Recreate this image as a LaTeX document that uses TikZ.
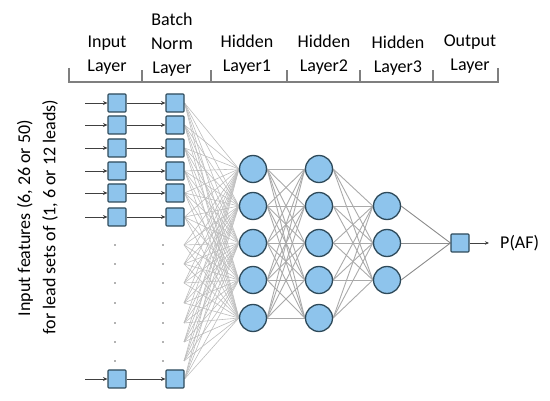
\documentclass[tikz,border=0pt]{standalone}
\usepackage{fontspec}
\setmainfont{Carlito}
\usetikzlibrary{backgrounds,arrows.meta}
\definecolor{nodefill}{HTML}{8EC4EC}
\definecolor{nodeedge}{HTML}{2E4A5A}
\definecolor{conn}{HTML}{BDBDBD}
\definecolor{bracket}{HTML}{7F7F7F}
\tikzset{
  sq/.style={draw=nodeedge, fill=nodefill, line width=1.1pt, minimum size=18pt, inner sep=0pt, rectangle, rounded corners=0.8pt},
  neuron/.style={draw=nodeedge, fill=nodefill, line width=1.3pt, circle, minimum size=27pt, inner sep=0pt},
  ghost/.style={inner sep=0pt, minimum size=0pt},
  lbl/.style={font=\fontsize{18}{24}\selectfont, align=center, inner sep=0pt},
  feed/.style={draw=black!75, line width=0.9pt, -{Stealth[length=4.5pt,width=4pt]}},
  link/.style={draw=conn, line width=0.6pt},
  hlink/.style={draw=conn!90!black, line width=0.9pt},
  dotmark/.style={fill=black!60, circle, inner sep=0pt, minimum size=1.6pt},
}
\begin{document}
\begin{tikzpicture}[x=1pt,y=-1pt]
\useasboundingbox (0,0) rectangle (550,401);

% header labels
\node[lbl] (lin) at (107,55) {Input\\Layer};
\node[lbl] (lbn) at (172,45) {Batch\\Norm\\Layer};
\node[lbl] (lh1) at (247,55) {Hidden\\Layer1};
\node[lbl] (lh2) at (324,55) {Hidden\\Layer2};
\node[lbl] (lh3) at (398,56) {Hidden\\Layer3};
\node[lbl] (lout) at (470,54) {Output\\Layer};

% bracket
\draw[bracket, line width=1.3pt] (69,68) -- (69,82) -- (498,82) -- (498,68);
\foreach \x in {142,211,287,360,433} \draw[bracket, line width=1.3pt] (\x,82) -- (\x,70);

% side text
\node[lbl, rotate=90] (side1) at (25,218) {Input features (6, 26 or 50)};
\node[lbl, rotate=90] (side2) at (50,217) {for lead sets of (1, 6 or 12 leads)};

% input and batch norm squares
\foreach \i/\y in {1/103,2/125,3/148,4/171,5/193,6/217,7/379} {
  \coordinate (src\i) at (85,\y);
  \node[sq] (in\i) at (117,\y) {};
  \node[sq] (bn\i) at (175,\y) {};
  \draw[feed] (src\i) -- (in\i.west);
  \draw[feed] (in\i.east) -- (bn\i.west);
}

% dots
\foreach \k/\y in {1/245,2/264,3/283,4/303,5/323,6/342,7/361} {
  \node[dotmark] (da\k) at (115,\y) {};
  \node[dotmark] (db\k) at (163,\y) {};
  \coordinate (gh\k) at (184,\y);
}

% hidden layers
\foreach \j/\y in {1/169,2/206,3/243,4/280,5/318} {
  \node[neuron] (ha\j) at (253,\y) {};
  \node[neuron] (hb\j) at (319,\y) {};
}
\foreach \j/\y in {1/206,2/243,3/280} {
  \node[neuron] (hc\j) at (387,\y) {};
}
\node[sq] (out) at (460,243) {};
\node[lbl, anchor=west] (paf) at (500,243) {P(AF)};
\coordinate (outend) at (489,243);
\draw[feed, -{Stealth[length=4pt,width=3.5pt]}] (out.east) -- (outend);

\begin{scope}[on background layer]
  \foreach \j in {1,...,5} {
    \foreach \i in {1,...,7} \draw[link] (bn\i.east) -- (ha\j.west);
    \foreach \k in {1,...,7} \draw[link] (gh\k) -- (ha\j.west);
    \foreach \m in {1,...,5} \draw[hlink] (ha\j.east) -- (hb\m.west);
    \foreach \m in {1,...,3} \draw[hlink] (hb\j.east) -- (hc\m.west);
  }
  \foreach \m in {1,...,3} \draw[hlink, draw=black!45] (hc\m.east) -- (out.west);
\end{scope}
\end{tikzpicture}
\end{document}
